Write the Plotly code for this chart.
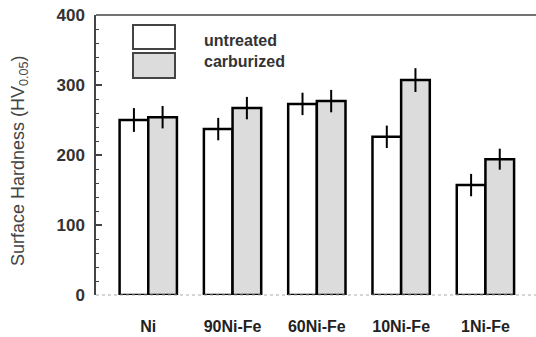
import plotly.graph_objects as go

# Surface hardness of Ni and Ni-Fe alloys, before and after carburizing
alloys = ["Ni", "90Ni-Fe", "60Ni-Fe", "10Ni-Fe", "1Ni-Fe"]
untreated = [250, 237, 273, 226, 157]
untreated_err = [17, 16, 16, 16, 16]
carburized = [254, 267, 277, 307, 194]
carburized_err = [16, 16, 16, 17, 15]
y_ticks = [0, 100, 200, 300, 400]

FONT = "Liberation Sans, Arial, Helvetica, sans-serif"
W, H = 536, 337
L, R, T, B = 96, 0, 15, 42
PW, PH = W - L - R, H - T - B


def px_x(x):
    return (x - L) / PW


def px_y(y):
    return (H - B - y) / PH


fig = go.Figure()
fig.add_trace(go.Bar(
    x=alloys, y=untreated, name="untreated",
    marker=dict(color="white", line=dict(color="black", width=2.5)),
    error_y=dict(type="data", array=untreated_err, color="black", thickness=2, width=0),
))
fig.add_trace(go.Bar(
    x=alloys, y=carburized, name="carburized",
    marker=dict(color="#dcdcdc", line=dict(color="black", width=2.5)),
    error_y=dict(type="data", array=carburized_err, color="black", thickness=2, width=0),
))

shapes = [
    # frame line along the top
    dict(type="line", xref="paper", yref="paper", x0=0, x1=1, y0=1, y1=1,
         line=dict(color="#444", width=1.5)),
    # faint baseline
    dict(type="line", xref="paper", yref="paper", x0=0, x1=1, y0=0, y1=0,
         line=dict(color="#aaa", width=1, dash="dot")),
    # legend swatches
    dict(type="rect", xref="paper", yref="paper",
         x0=px_x(133), x1=px_x(175), y0=px_y(49), y1=px_y(25),
         fillcolor="white", line=dict(color="#444", width=2)),
    dict(type="rect", xref="paper", yref="paper",
         x0=px_x(133), x1=px_x(175), y0=px_y(78), y1=px_y(53),
         fillcolor="#dcdcdc", line=dict(color="#444", width=2)),
]

annotations = [
    dict(text="untreated", xref="paper", yref="paper", x=px_x(202), y=px_y(40),
         xanchor="left", yanchor="middle", showarrow=False,
         font=dict(family=FONT, size=16, color="#333", weight="bold")),
    dict(text="carburized", xref="paper", yref="paper", x=px_x(202), y=px_y(62),
         xanchor="left", yanchor="middle", showarrow=False,
         font=dict(family=FONT, size=16, color="#333", weight="bold")),
    dict(text="Surface Hardness (HV<sub>0.05</sub>)", xref="paper", yref="paper",
         x=px_x(20), y=px_y(161), textangle=-90, xanchor="center", yanchor="middle",
         showarrow=False, font=dict(family=FONT, size=18, color="#444")),
]

fig.update_layout(
    width=W, height=H,
    margin=dict(l=L, r=R, t=T, b=B, pad=0),
    paper_bgcolor="white", plot_bgcolor="white",
    barmode="group", bargap=0.32, bargroupgap=0,
    showlegend=False,
    shapes=shapes, annotations=annotations,
    font=dict(family=FONT),
)
fig.update_xaxes(
    range=[-0.62, 4.6], showgrid=False, showline=False, zeroline=False,
    ticks="", ticklabelstandoff=20,
    tickfont=dict(family=FONT, size=16, color="#222", weight="bold"),
)
fig.update_yaxes(
    range=[0, 400], tickvals=y_ticks, ticktext=[str(v) for v in y_ticks],
    showgrid=False, zeroline=False,
    showline=True, linecolor="#444", linewidth=1.5,
    ticks="inside", ticklen=6, tickwidth=1.5, tickcolor="#444",
    minor=dict(dtick=20, ticks="inside", ticklen=3, tickwidth=1, tickcolor="#444"),
    ticklabelstandoff=6,
    tickfont=dict(family=FONT, size=17, color="#333", weight="bold"),
)

fig.write_html("out.html")
